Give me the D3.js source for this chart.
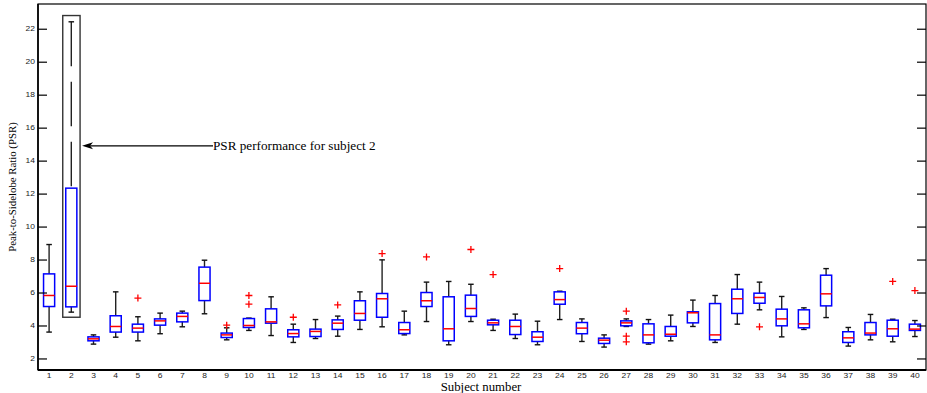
<!DOCTYPE html>
<html>
<head>
<meta charset="utf-8">
<script src="https://cdn.jsdelivr.net/npm/d3@7"></script>
<style>
  html, body { margin: 0; padding: 0; background: #fff; }
  svg { display: block; }
</style>
</head>
<body>
<svg id="chart" width="927" height="393"></svg>
<script>
// Per-subject box plot statistics of the peak-to-sidelobe ratio
const subjects = d3.range(1, 41);
const upperWhisker = [8.91,22.42,3.43,6.04,4.53,4.75,4.87,7.96,3.86,4.45,5.74,4.08,4.36,4.57,6.04,7.98,4.87,6.63,6.67,6.50,4.38,4.69,4.26,6.08,4.40,3.43,4.40,4.36,4.63,5.54,5.82,7.09,6.63,5.76,5.07,7.45,3.88,4.67,4.38,4.30];
const q3 = [7.13,12.33,3.31,4.59,4.08,4.40,4.75,7.54,3.54,4.42,5.01,3.74,3.78,4.34,5.50,5.94,4.18,6.00,5.74,5.84,4.32,4.32,3.62,6.04,4.18,3.23,4.28,4.10,3.94,4.83,5.33,6.20,5.96,4.99,4.95,7.05,3.62,4.18,4.32,4.08];
const medians = [5.82,6.38,3.19,3.94,3.84,4.28,4.55,6.56,3.43,4.00,4.22,3.51,3.64,4.14,4.73,5.62,3.74,5.50,3.80,5.03,4.16,3.94,3.29,5.57,3.84,3.11,4.16,3.43,3.47,4.77,3.43,5.62,5.70,4.40,4.10,5.92,3.25,3.54,3.80,3.78];
const q1 = [5.15,5.13,3.07,3.60,3.60,4.02,4.22,5.51,3.27,3.88,4.14,3.31,3.33,3.76,4.32,4.50,3.51,5.15,3.07,4.55,4.04,3.45,3.03,5.29,3.50,2.91,3.98,2.95,3.35,4.16,3.13,4.73,5.35,3.98,3.86,5.19,2.97,3.43,3.35,3.70];
const lowerWhisker = [3.60,4.81,2.87,3.29,3.07,3.50,3.92,4.71,3.13,3.70,3.39,2.97,3.21,3.35,3.76,3.92,3.43,4.24,2.83,4.24,3.70,3.21,2.83,4.36,3.03,2.69,3.94,2.87,3.07,3.94,2.97,4.08,4.95,3.31,3.76,4.48,2.75,3.13,3.01,3.33];
// outliers: [subject, value]
const outliers = [[5,5.66],[9,4.02],[10,5.82],[10,5.29],[12,4.50],[14,5.25],[16,8.36],[18,8.16],[20,8.61],[21,7.09],[24,7.45],[27,4.87],[27,3.35],[27,3.01],[33,3.92],[39,6.67],[40,6.12]];
const yTicks = [2,4,6,8,10,12,14,16,18,20,22];

// Highlight of subject 2 (data coordinates)
const highlightSubject = 2;
const highlightTop = 22.8;
const highlightBottom = 4.5;
const arrowValue = 14.9;
const noteText = "PSR performance for subject 2";

const svg = d3.select("#chart");
const plotL = 38, plotR = 926, plotT = 4, plotB = 370;

const x = d3.scaleLinear().domain([0.5, 40.5]).range([plotL, plotR]);
const y = d3.scaleLinear().domain([1.3, 23.5]).range([plotB, plotT]);
const unit = x(1) - x(0);
const boxHalf = 0.25 * unit;
const capHalf = 0.125 * unit;

const boxes = subjects.map((s, i) => ({
  s, hi: upperWhisker[i], q3: q3[i], med: medians[i], q1: q1[i], lo: lowerWhisker[i]
}));

const plot = svg.append("g");

// whiskers (long dashes, so only the tall one shows gaps)
plot.selectAll("line.wu").data(boxes).join("line")
  .attr("x1", d => x(d.s)).attr("x2", d => x(d.s))
  .attr("y1", d => y(d.hi)).attr("y2", d => y(d.q3))
  .attr("stroke", "#222").attr("stroke-width", 1.4)
  .attr("stroke-dasharray", "44.5,15.5");
plot.selectAll("line.wl").data(boxes).join("line")
  .attr("x1", d => x(d.s)).attr("x2", d => x(d.s))
  .attr("y1", d => y(d.lo)).attr("y2", d => y(d.q1))
  .attr("stroke", "#222").attr("stroke-width", 1.4)
  .attr("stroke-dasharray", "44.5,15.5");
// caps
["hi", "lo"].forEach(k => {
  plot.selectAll("line.cap-" + k).data(boxes).join("line")
    .attr("x1", d => x(d.s) - capHalf).attr("x2", d => x(d.s) + capHalf)
    .attr("y1", d => y(d[k])).attr("y2", d => y(d[k]))
    .attr("stroke", "#111").attr("stroke-width", 1.4);
});
// boxes
plot.selectAll("rect.box").data(boxes).join("rect")
  .attr("x", d => x(d.s) - boxHalf).attr("width", 2 * boxHalf)
  .attr("y", d => y(d.q3)).attr("height", d => y(d.q1) - y(d.q3))
  .attr("fill", "none").attr("stroke", "#0000ff").attr("stroke-width", 1.5);
// medians
plot.selectAll("line.med").data(boxes).join("line")
  .attr("x1", d => x(d.s) - boxHalf).attr("x2", d => x(d.s) + boxHalf)
  .attr("y1", d => y(d.med)).attr("y2", d => y(d.med))
  .attr("stroke", "#ff0000").attr("stroke-width", 1.5);
// outliers as '+'
const m = 3.5;
plot.selectAll("path.out").data(outliers).join("path")
  .attr("d", d => {
    const cx = x(d[0]), cy = y(d[1]);
    return `M${cx - m},${cy}H${cx + m}M${cx},${cy - m}V${cy + m}`;
  })
  .attr("stroke", "#ff0000").attr("stroke-width", 1.3).attr("fill", "none");

// highlight rectangle and arrow
const hx0 = x(highlightSubject - 0.385), hx1 = x(highlightSubject + 0.395);
svg.append("rect")
  .attr("x", hx0).attr("y", y(highlightTop))
  .attr("width", hx1 - hx0).attr("height", y(highlightBottom) - y(highlightTop))
  .attr("fill", "none").attr("stroke", "#333").attr("stroke-width", 1.4);
const ay = y(arrowValue);
const tipX = hx1 + 2, textX = 213;
svg.append("line").attr("x1", tipX + 8).attr("x2", textX).attr("y1", ay).attr("y2", ay)
  .attr("stroke", "#000").attr("stroke-width", 1.2);
svg.append("path")
  .attr("d", `M${tipX},${ay}L${tipX + 11},${ay - 3.5}L${tipX + 8},${ay}L${tipX + 11},${ay + 3.5}Z`)
  .attr("fill", "#000");
svg.append("text").attr("x", textX).attr("y", ay + 4.5)
  .attr("font-family", "'Liberation Serif', 'Times New Roman', serif")
  .attr("font-size", 13.2).attr("fill", "#000").text(noteText);

// frame
svg.append("rect").attr("x", plotL).attr("y", plotT)
  .attr("width", plotR - plotL).attr("height", plotB - plotT)
  .attr("fill", "none").attr("stroke", "#000").attr("stroke-width", 1.2);
svg.append("line").attr("x1", plotL).attr("x2", plotR).attr("y1", plotB).attr("y2", plotB)
  .attr("stroke", "#000").attr("stroke-width", 2);
svg.append("line").attr("x1", plotL).attr("x2", plotL).attr("y1", plotT).attr("y2", plotB)
  .attr("stroke", "#000").attr("stroke-width", 1.6);

// y axis (ticks pointing inward, mirrored on the right)
const yAxisL = svg.append("g").attr("transform", `translate(${plotL},0)`)
  .call(d3.axisRight(y).tickValues(yTicks).tickSize(9).tickFormat(""));
const yAxisR = svg.append("g").attr("transform", `translate(${plotR},0)`)
  .call(d3.axisLeft(y).tickValues(yTicks).tickSize(9).tickFormat(""));
[yAxisL, yAxisR].forEach(g => {
  g.select(".domain").remove();
  g.selectAll("line").attr("stroke", "#000").attr("stroke-width", 1.2);
});

// tick labels: small, slightly flattened sans-serif digits
const flat = 0.77;
svg.append("g").selectAll("text").data(yTicks).join("text")
  .attr("transform", d => `translate(${plotL - 3},${y(d) + 2.3}) scale(1,${flat})`)
  .attr("text-anchor", "end")
  .attr("font-family", "'Liberation Sans', Arial, sans-serif")
  .attr("font-size", 8.5).attr("fill", "#222").text(d => d);
svg.append("g").selectAll("text").data(subjects).join("text")
  .attr("transform", d => `translate(${x(d)},${plotB + 8.4}) scale(1,${flat})`)
  .attr("text-anchor", "middle")
  .attr("font-family", "'Liberation Sans', Arial, sans-serif")
  .attr("font-size", 8.5).attr("fill", "#222").text(d => d);

// axis titles
svg.append("text").attr("x", (plotL + plotR) / 2 - 1).attr("y", 391)
  .attr("text-anchor", "middle")
  .attr("font-family", "'Liberation Serif', 'Times New Roman', serif")
  .attr("font-size", 12.8).attr("fill", "#000").text("Subject number");
svg.append("text")
  .attr("transform", `translate(16,${(plotT + plotB) / 2}) rotate(-90)`)
  .attr("text-anchor", "middle")
  .attr("font-family", "'Liberation Serif', 'Times New Roman', serif")
  .attr("font-size", 10.8).attr("fill", "#000").text("Peak-to-Sidelobe Ratio (PSR)");
</script>
</body>
</html>
